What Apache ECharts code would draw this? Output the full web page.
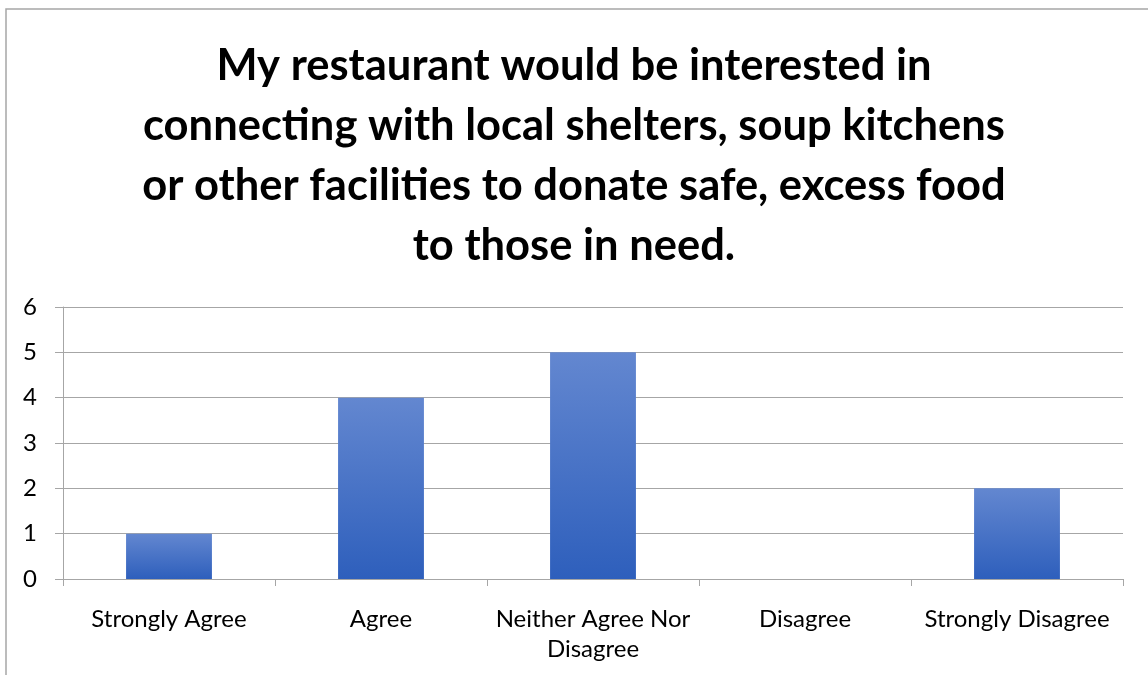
<!DOCTYPE html>
<html>
<head>
<meta charset="utf-8">
<script src="https://cdn.jsdelivr.net/npm/echarts@6/dist/echarts.min.js"></script>
<style>
  html, body { margin: 0; padding: 0; background: #ffffff; }
  #chart { width: 1148px; height: 675px; }
</style>
</head>
<body>
<div id="chart"></div>
<script>
// Survey responses
const titleLines = [
  'My restaurant would be interested in',
  'connecting with local shelters, soup kitchens',
  'or other facilities to donate safe, excess food',
  'to those in need.'
];
const categories = ['Strongly Agree', 'Agree', 'Neither Agree Nor\nDisagree', 'Disagree', 'Strongly Disagree'];
const counts = [1, 4, 5, 0, 2];
const yTicks = { min: 0, max: 6, interval: 1 };

const FONT = 'Lato, "Open Sans", sans-serif';
const chart = echarts.init(document.getElementById('chart'), null, { renderer: 'canvas' });

chart.setOption({
  backgroundColor: '#ffffff',
  animation: false,
  title: {
    text: titleLines.join('\n'),
    left: 'center',
    top: 31,
    textStyle: {
      fontFamily: FONT,
      fontWeight: 'bold',
      fontSize: 43.5,
      lineHeight: 60,
      color: '#000000'
    }
  },
  graphic: [{
    type: 'polyline',
    silent: true,
    shape: { points: [[6, 675], [6, 9], [1148, 9]] },
    style: { stroke: '#a6a6a6', lineWidth: 1.5, fill: null }
  }],
  grid: { left: 63, right: 25, top: 307, bottom: 96, containLabel: false },
  xAxis: {
    type: 'category',
    data: categories,
    axisLine: { show: true, lineStyle: { color: '#a6a6a6', width: 1 } },
    axisTick: { show: true, length: 7, alignWithLabel: false, lineStyle: { color: '#a6a6a6' } },
    axisLabel: {
      fontFamily: FONT,
      fontSize: 24,
      color: '#000000',
      margin: 25,
      lineHeight: 30,
      interval: 0
    }
  },
  yAxis: {
    type: 'value',
    min: yTicks.min,
    max: yTicks.max,
    interval: yTicks.interval,
    axisLine: { show: true, lineStyle: { color: '#a6a6a6', width: 1 } },
    axisTick: { show: true, length: 8, inside: false, lineStyle: { color: '#a6a6a6' } },
    axisLabel: { fontFamily: FONT, fontSize: 24, color: '#000000', margin: 26 },
    splitLine: { show: true, lineStyle: { color: '#a6a6a6', width: 1 } }
  },
  series: [{
    type: 'bar',
    data: counts,
    barWidth: '40.5%',
    itemStyle: {
      color: new echarts.graphic.LinearGradient(0, 0, 0, 1, [
        { offset: 0, color: '#6387d0' },
        { offset: 1, color: '#2e5fbc' }
      ])
    }
  }]
});
</script>
</body>
</html>
